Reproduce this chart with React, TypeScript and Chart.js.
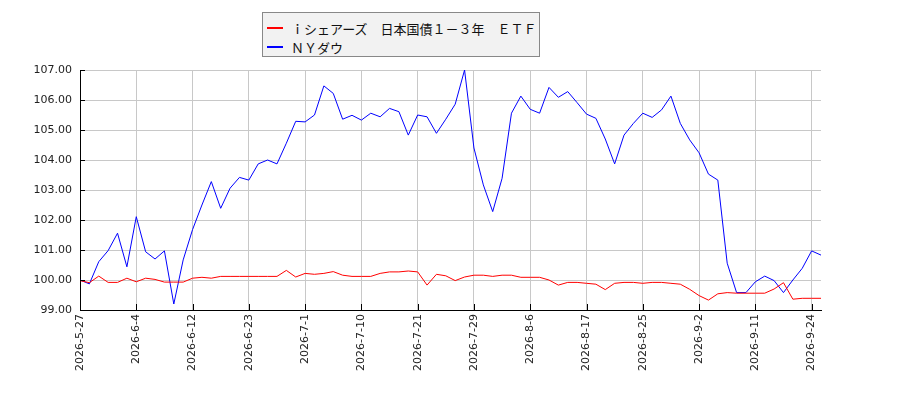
import { useEffect, useRef } from 'react';
import { Chart, registerables } from 'chart.js';

Chart.register(...registerables);

const dates = [
  '2026-5-27', '2026-5-28', '2026-5-29', '2026-6-1', '2026-6-2', '2026-6-3',
  '2026-6-4', '2026-6-5', '2026-6-8', '2026-6-9', '2026-6-10', '2026-6-11',
  '2026-6-12', '2026-6-15', '2026-6-16', '2026-6-17', '2026-6-18', '2026-6-22',
  '2026-6-23', '2026-6-24', '2026-6-25', '2026-6-26', '2026-6-29', '2026-6-30',
  '2026-7-1', '2026-7-2', '2026-7-6', '2026-7-7', '2026-7-8', '2026-7-9',
  '2026-7-10', '2026-7-13', '2026-7-14', '2026-7-15', '2026-7-16', '2026-7-17',
  '2026-7-21', '2026-7-22', '2026-7-23', '2026-7-24', '2026-7-27', '2026-7-28',
  '2026-7-29', '2026-7-30', '2026-7-31', '2026-8-3', '2026-8-4', '2026-8-5',
  '2026-8-6', '2026-8-7', '2026-8-10', '2026-8-12', '2026-8-13', '2026-8-14',
  '2026-8-17', '2026-8-18', '2026-8-19', '2026-8-20', '2026-8-21', '2026-8-24',
  '2026-8-25', '2026-8-26', '2026-8-27', '2026-8-28', '2026-8-31', '2026-9-1',
  '2026-9-2', '2026-9-3', '2026-9-4', '2026-9-8', '2026-9-9', '2026-9-10',
  '2026-9-11', '2026-9-14', '2026-9-15', '2026-9-16', '2026-9-17', '2026-9-18',
  '2026-9-24', '2026-9-25',
];

const etfValues = [
  99.98, 99.91, 100.13, 99.92, 99.92, 100.06, 99.94, 100.06, 100.02, 99.93,
  99.93, 99.93, 100.06, 100.09, 100.06, 100.12, 100.12, 100.12, 100.12, 100.12,
  100.12, 100.12, 100.32, 100.1, 100.22, 100.19, 100.22, 100.28, 100.16, 100.12,
  100.12, 100.12, 100.22, 100.27, 100.27, 100.3, 100.27, 99.83, 100.19, 100.14,
  99.98, 100.1, 100.16, 100.16, 100.12, 100.16, 100.16, 100.09, 100.09, 100.09,
  100.0, 99.83, 99.92, 99.92, 99.89, 99.86, 99.68, 99.89, 99.92, 99.92,
  99.89, 99.92, 99.92, 99.89, 99.86, 99.69, 99.48, 99.33, 99.54, 99.58,
  99.56, 99.56, 99.56, 99.56, 99.7, 99.91, 99.36, 99.39, 99.39, 99.39,
];

const nyDowValues = [
  100.0, 99.87, 100.61, 100.98, 101.56, 100.44, 102.11, 100.94, 100.7, 100.97,
  99.2, 100.67, 101.68, 102.5, 103.28, 102.39, 103.06, 103.42, 103.33, 103.87,
  104.0, 103.87, 104.56, 105.29, 105.27, 105.5, 106.47, 106.22, 105.36, 105.49,
  105.33, 105.56, 105.44, 105.72, 105.61, 104.83, 105.5, 105.44, 104.89, 105.36,
  105.86, 107.0, 104.4, 103.17, 102.28, 103.39, 105.56, 106.13, 105.69, 105.56,
  106.42, 106.09, 106.28, 105.91, 105.53, 105.39, 104.7, 103.87, 104.83, 105.22,
  105.56, 105.42, 105.67, 106.13, 105.22, 104.67, 104.24, 103.53, 103.33, 100.56,
  99.58, 99.58, 99.94, 100.13, 99.98, 99.58, 100.0, 100.39, 100.97, 100.83,
];

const yTicks = [99, 100, 101, 102, 103, 104, 105, 106, 107];

const seriesNames = ['ｉシェアーズ　日本国債１－３年　ＥＴＦ', 'ＮＹダウ'];
const seriesColors = ['#ff0000', '#0000ff'];

const labelEvery = 6;

// short black tick marks drawn inside the plot area
const innerTicks = {
  id: 'innerTicks',
  afterDatasetsDraw(chart: Chart) {
    const { ctx, chartArea } = chart;
    const x = chart.scales.x;
    const y = chart.scales.y;
    ctx.save();
    ctx.strokeStyle = '#000';
    ctx.lineWidth = 1;
    ctx.beginPath();
    dates.forEach((_, i) => {
      if (i % labelEvery !== 0) return;
      const px = Math.round(x.getPixelForValue(i)) + 0.5;
      ctx.moveTo(px, chartArea.bottom);
      ctx.lineTo(px, chartArea.bottom - 6);
    });
    yTicks.forEach((v) => {
      const py = Math.round(y.getPixelForValue(v)) + 0.5;
      ctx.moveTo(chartArea.left, py);
      ctx.lineTo(chartArea.left + 5, py);
    });
    ctx.stroke();
    ctx.restore();
  },
};

export default function App() {
  const chartRef = useRef<HTMLCanvasElement>(null);
  const chartInstance = useRef<Chart | null>(null);

  useEffect(() => {
    if (!chartRef.current) return;
    if (chartInstance.current) chartInstance.current.destroy();
    const ctx = chartRef.current.getContext('2d');
    if (!ctx) return;

    chartInstance.current = new Chart(ctx, {
      type: 'line',
      data: {
        labels: dates,
        datasets: [
          {
            label: seriesNames[0],
            data: etfValues,
            borderColor: seriesColors[0],
            borderWidth: 1,
            pointRadius: 0,
            tension: 0,
          },
          {
            label: seriesNames[1],
            data: nyDowValues,
            borderColor: seriesColors[1],
            borderWidth: 1,
            pointRadius: 0,
            tension: 0,
          },
        ],
      },
      options: {
        animation: false,
        responsive: false,
        maintainAspectRatio: false,
        layout: { padding: { top: 70, right: 79, bottom: 0, left: 0 } },
        plugins: {
          legend: { display: false },
          tooltip: { enabled: false },
        },
        scales: {
          x: {
            offset: false,
            afterFit: (scale) => {
              scale.height = 90;
            },
            ticks: {
              autoSkip: false,
              minRotation: 90,
              maxRotation: 90,
              padding: 4,
              color: '#222',
              font: { family: 'DejaVu Sans', size: 11 },
              callback: (_v, i) => (i % labelEvery === 0 ? dates[i] : null),
            },
            grid: {
              color: '#c8c8c8',
              drawTicks: false,
            },
            border: { color: '#000', width: 1 },
          },
          y: {
            min: 99,
            max: 107,
            afterFit: (scale) => {
              scale.width = 80;
            },
            afterBuildTicks: (scale) => {
              scale.ticks = yTicks.map((v) => ({ value: v }));
            },
            ticks: {
              padding: 8,
              color: '#222',
              font: { family: 'DejaVu Sans', size: 11 },
              callback: (v) => Number(v).toFixed(2),
            },
            grid: {
              color: '#c8c8c8',
              drawTicks: false,
            },
            border: { color: '#000', width: 1 },
          },
        },
      },
      plugins: [innerTicks],
    });

    return () => {
      if (chartInstance.current) {
        chartInstance.current.destroy();
        chartInstance.current = null;
      }
    };
  }, []);

  return (
    <div style={{ position: 'fixed', left: 0, top: 0, width: 900, height: 400, background: '#fff' }}>
      <canvas ref={chartRef} width={900} height={400} style={{ width: 900, height: 400 }}></canvas>
      <div
        style={{
          position: 'absolute',
          left: 262,
          top: 12,
          width: 276,
          height: 43,
          background: '#f2f2f2',
          border: '1px solid #888',
          fontFamily: '"Noto Sans CJK JP", sans-serif',
          fontSize: 13,
          color: '#111',
        }}
      >
        {seriesNames.map((name, i) => (
          <div key={name} style={{ position: 'absolute', left: 4, top: 6 + i * 19, height: 18, display: 'flex', alignItems: 'center' }}>
            <span style={{ display: 'inline-block', width: 16, height: 2, background: seriesColors[i], marginRight: 8 }}></span>
            <span style={{ whiteSpace: 'pre' }}>{name}</span>
          </div>
        ))}
      </div>
    </div>
  );
}
